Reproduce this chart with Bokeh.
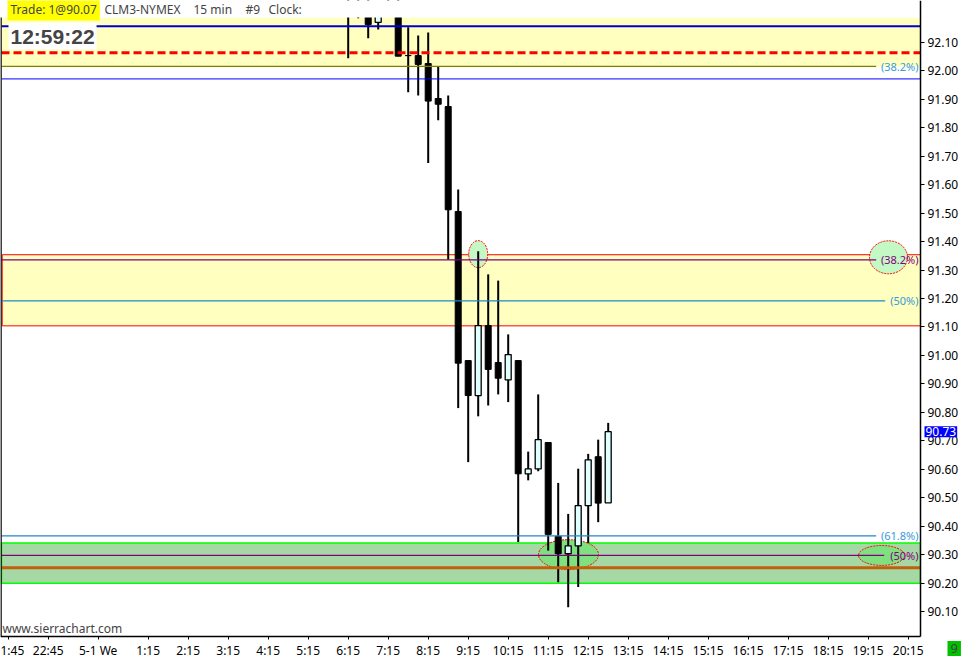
from bokeh.plotting import figure
from bokeh.models import Range1d, FixedTicker, PrintfTickFormatter, Label
from bokeh.embed import file_html
from bokeh.resources import INLINE

# CLM3-NYMEX 15 min bars, bar 0 = 6:15
bar_time = ["6:15", "6:30", "6:45", "7:00", "7:15", "7:30", "7:45", "8:00", "8:15",
            "8:30", "8:45", "9:00", "9:15", "9:30", "9:45", "10:00", "10:15", "10:30",
            "10:45", "11:00", "11:15", "11:30", "11:45", "12:00", "12:15", "12:30", "12:45"]
bar_open = [92.24, 92.22, 92.24, 92.171, 92.21, 92.24, 92.054, 92.054, 92.026, 91.903,
            91.875, 91.506, 90.982, 90.859, 91.105, 90.975, 90.914, 90.982, 90.584, 90.601,
            90.694, 90.364, 90.303, 90.331, 90.472, 90.644, 90.482]
bar_high = [92.28, 92.26, 92.26, 92.23, 92.26, 92.25, 92.154, 92.125, 92.135, 92.017,
            91.914, 91.583, 90.982, 91.366, 91.285, 91.263, 91.074, 90.982, 90.662, 90.863,
            90.694, 90.552, 90.443, 90.602, 90.654, 90.704, 90.763]
bar_low = [92.045, 92.185, 92.115, 92.146, 92.195, 92.052, 91.925, 91.914, 91.676, 91.827,
           91.337, 90.815, 90.625, 90.786, 90.824, 90.863, 90.836, 90.344, 90.561, 90.593,
           90.314, 90.203, 90.115, 90.186, 90.341, 90.414, 90.611]
bar_close = [92.20, 92.24, 92.163, 92.21, 92.24, 92.052, 92.054, 92.023, 91.894, 91.883,
             91.512, 90.973, 90.859, 91.105, 90.951, 90.920, 91.003, 90.584, 90.601, 90.704,
             90.371, 90.303, 90.331, 90.472, 90.633, 90.481, 90.732]

# zones and drawn levels
zone_top = [92.016, 92.188]
zone_mid = [91.104, 91.354]
zone_low = [90.199, 90.341]
level_blue_thick = 92.157
level_red_dash = 92.064
level_blue_thin = 91.972
level_orange = 90.254
fib_levels = [92.016, 91.336, 91.192, 90.366, 90.297]
fib_labels = ["(38.2%)", "(38.2%)", "(50%)", "(61.8%)", "(50%)"]
fib_colors = ["#808000", "#800080", "#1F88C8", "#1F88C8", "#800080"]
fib_text_colors = ["#3A9AD9", "#800080", "#3A9AD9", "#3A9AD9", "#800080"]
fib_line_end = [52.8, 52.8, 53.7, 52.8, 53.6]

# axis ticks
price_ticks = [90.1, 90.2, 90.3, 90.4, 90.5, 90.6, 90.7, 90.8, 90.9, 91.0, 91.1,
               91.2, 91.3, 91.4, 91.5, 91.6, 91.7, 91.8, 91.9, 92.0, 92.1]
time_ticks = [-34.02, -30, -25, -20, -16, -12, -8, -4, 0, 4, 8, 12, 16, 20, 24, 28,
              32, 36, 40, 44, 48, 52, 56]
time_labels = ["1:45", "22:45", "5-1 We", "1:15", "2:15", "3:15", "4:15", "5:15", "6:15",
               "7:15", "8:15", "9:15", "10:15", "11:15", "12:15", "13:15", "14:15", "15:15",
               "16:15", "17:15", "18:15", "19:15", "20:15"]

W, H = 961, 658
x_lo, x_hi = -34.77, 61.33          # whole canvas in bar units
y_lo, y_hi = 89.9348, 92.2476       # whole canvas in price
fx0, fx1 = -34.67, 57.23            # chart area
fy0, fy1 = 90.012, 92.188
FONT = "Noto Sans"

p = figure(width=W, height=H, x_range=Range1d(x_lo, x_hi), y_range=Range1d(y_lo, y_hi),
           y_axis_location="right", toolbar_location=None, tools="", output_backend="svg",
           min_border=0)
p.grid.visible = False
p.outline_line_color = None
p.background_fill_color = "white"
p.border_fill_color = "white"

for ax in (p.xaxis[0], p.yaxis[0]):
    ax.major_label_text_font = FONT
    ax.major_label_text_font_size = "12px"
    ax.major_label_text_color = "black"
    ax.axis_line_color = "black"
    ax.axis_line_width = 1.5
    ax.major_tick_line_color = "black"
    ax.major_tick_in = 0
    ax.minor_tick_line_color = None

p.yaxis[0].fixed_location = fx1
p.yaxis[0].bounds = (fy0, y_hi)
p.yaxis[0].ticker = FixedTicker(ticks=price_ticks)
p.yaxis[0].formatter = PrintfTickFormatter(format="%.2f")
p.yaxis[0].major_tick_out = 4
p.yaxis[0].major_label_standoff = 3

p.xaxis[0].fixed_location = fy0
p.xaxis[0].bounds = (x_lo, fx1)
p.xaxis[0].ticker = FixedTicker(ticks=time_ticks)
p.xaxis[0].major_label_overrides = {t: s for t, s in zip(time_ticks, time_labels)}
p.xaxis[0].major_tick_out = 3
p.xaxis[0].major_label_standoff = 2

# zones
p.quad(left=fx0, right=fx1, bottom=zone_top[0], top=zone_top[1],
       fill_color="#FFFFBF", line_color=None)
p.quad(left=fx0 + 0.07, right=fx1, bottom=zone_mid[0], top=zone_mid[1],
       fill_color="#FFFFBF", line_color="#FF0000", line_width=1)
p.quad(left=fx0, right=fx1, bottom=zone_low[0], top=zone_low[1],
       fill_color="#A6D8A6", line_color="#00FF00", line_width=1.5)

# highlight ellipses
ell_x = [13, 54.03, 22.03, 53.33]
ell_y = [bar_high[13] - 0.01, 91.345, 90.300, 90.297]
ell_w = [1.9, 3.8, 6.0, 4.6]
ell_h = [0.095, 0.116, 0.105, 0.070]
ell_fill = ["#C4F8C4", "#C4F8C4", "#80E080", "#80E080"]
p.ellipse(x=ell_x, y=ell_y, width=ell_w, height=ell_h, fill_color=ell_fill,
          line_color="#FF0000", line_width=1, line_dash="2 1")

# candles
idx = list(range(len(bar_time)))
p.segment(x0=idx, y0=bar_low, x1=idx, y1=bar_high, line_color="black", line_width=2)
up = [i for i in idx if bar_close[i] > bar_open[i]]
dn = [i for i in idx if bar_close[i] <= bar_open[i]]
p.vbar(x=up, width=0.6, bottom=[bar_open[i] for i in up], top=[bar_close[i] for i in up],
       fill_color="#E0FFFF", line_color="black", line_width=1.3)
p.vbar(x=dn, width=0.6, bottom=[bar_close[i] for i in dn], top=[bar_open[i] for i in dn],
       fill_color="black", line_color="black", line_width=1)

# horizontal levels
full = [level_blue_thick, level_blue_thin, level_orange]
p.segment(x0=[fx0] * 3, y0=full, x1=[fx1] * 3, y1=full,
          line_color=["#0000CC", "#0000FF", "#C0600A"], line_width=[2, 1, 3])
p.segment(x0=fx0, y0=level_red_dash, x1=fx1, y1=level_red_dash, line_color="#FF0000",
          line_width=3, line_dash="8 4")
p.segment(x0=[fx0] * len(fib_levels), y0=fib_levels, x1=fib_line_end, y1=fib_levels,
          line_color=fib_colors, line_width=1.2)

# paper outside the chart area
p.quad(left=[x_lo, fx1, x_lo], right=[x_hi, x_hi, x_hi], bottom=[fy1, y_lo, y_lo],
       top=[y_hi, y_hi, fy0], fill_color="white", line_color=None)
p.segment(x0=fx0 - 0.05, y0=fy0, x1=fx0 - 0.05, y1=fy1, line_color="black", line_width=1.5)

p.text(x=[57.03] * len(fib_levels), y=fib_levels, text=fib_labels, text_color=fib_text_colors,
       text_align="right", text_baseline="middle", text_font_size="11px",
       text_font={"value": FONT})


# chart header / info texts (screen units from bottom-left)
def info(x, y, text, size="12px", font=FONT, **kw):
    p.add_layout(Label(x=x, y=y, x_units="screen", y_units="screen", text=text,
                       text_font=font, text_font_size=size, text_baseline="middle", **kw))


info(7, H - 8.5, "Trade: 1@90.07", background_fill_color="#FFFF00", padding=3)
info(104, H - 8.5, "CLM3-NYMEX")
info(193, H - 8.5, "15 min")
info(245, H - 8.5, "#9")
info(268, H - 8.5, "Clock:")
info(8, H - 35.5, "12:59:22", size="21px", font="Liberation Sans", text_font_style="bold",
     background_fill_color="white", padding=2)
info(2, H - 628, "www.sierrachart.com")
p.add_layout(Label(x=924, y=bar_close[-1], x_units="screen", y_units="data",
                   text="%.2f" % bar_close[-1], text_font=FONT, text_font_size="12px",
                   text_color="white", text_baseline="middle",
                   background_fill_color="#0000FF", padding=1))
info(947, H - 648, "9", size="13px", background_fill_color="#00C000", padding=3)

open("out.html", "w").write(file_html(p, INLINE))
